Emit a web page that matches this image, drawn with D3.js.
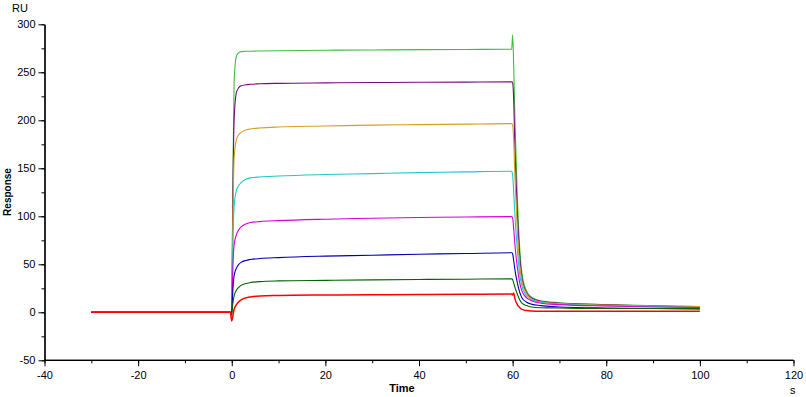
<!DOCTYPE html>
<html><head><meta charset="utf-8">
<script src="https://cdn.jsdelivr.net/npm/d3@7"></script>
<style>body{margin:0;background:#fff}svg{display:block}text{font-family:"Liberation Sans",Arial,sans-serif;fill:#000}</style>
</head><body><svg id="c" width="806" height="397"></svg>
<script>
const times = [-30,-0.3,0,0.2,0.5,1,1.5,2,3,4,6,10,20,30,40,50,59.8,60.0,60.2,60.5,61,61.5,62,63,64,66,70,80,90,100];
const seriesNames = ["s1","s2","s3","s4","s5","s6","s7","s8"];
const seriesColors = ["#3dbf3d","#7a0a7a","#d4a020","#20c8c8","#d800d8","#0000b4","#006400","#ff0000"];
const s1 = [0,0,0,120,240,267,270.5,271.5,272,272,272.2,272.5,273,273.3,273.6,273.8,274,289,262,200,120,68,40,22,16,12,10,8,7,6];
const s2 = [0,0,0,100,200,229,234,236,237,237.5,238,238.5,239,239.3,239.6,239.8,240,239,225,170,105,60,36,20,15,11.5,9.5,8,6.5,5.5];
const s3 = [0,0,0,80,160,180,185,187.5,190,191,192,193,194,195,195.5,196,196.5,195,182,140,86,50,32,19,14,11,9,7.5,6.5,6];
const s4 = [0,0,0,60,110,127,132,135,138.5,140,141,142,143.5,144.5,145.5,146.3,147,143,128,100,66,40,27,17,13,10.5,8.5,7,6,5];
const s5 = [0,0,0,40,70,81,86,89,92,93.5,94.5,95.5,97,98,98.8,99.3,99.7,98,89,70,47,31,22,15,12,9.5,8,6.5,5.5,5];
const s6 = [0,0,0,20,38,46,50,52,54,55,56,57,58.5,59.5,60.5,61.2,62,61,55,44,31,21,15,10.5,8.5,7,5.5,4.5,4,3.5];
const s7 = [0,0,-3,8,17,23,26,28,30,31,32,32.7,33.3,33.8,34.2,34.5,34.8,34,31,26,19,13,9.5,7,5.5,4.8,4.5,4,4,3.8];
const s8 = [0,0,-9,-5,3,8,11,13,15,16,17,17.5,18,18.3,18.6,18.8,19,18,20,14,8,5,3,1.8,1.3,1,1,1,1,1];
const seriesValues = [s1,s2,s3,s4,s5,s6,s7,s8];
const xTicks = [-40,-20,0,20,40,60,80,100,120];
const yTicks = [-50,0,50,100,150,200,250,300];

const svg = d3.select("#c");
const x = d3.scaleLinear().domain([-40,120]).range([44.5,793.5]);
const y = d3.scaleLinear().domain([-50,300]).range([360.3,24.3]);
const fmt = d => String(d);

const gx = svg.append("g").attr("transform","translate(0,360.3)");
gx.call(d3.axisBottom(x).tickValues(d3.range(-40,121,10)).tickSize(3).tickFormat(""));
const gx2 = svg.append("g").attr("transform","translate(0,360.3)");
gx2.call(d3.axisBottom(x).tickValues(xTicks).tickSize(6).tickPadding(5).tickFormat(fmt));
gx2.selectAll("text").attr("font-size",11).style("font-family","Liberation Sans, Arial, sans-serif");

const gy = svg.append("g").attr("transform","translate(44.5,0)");
gy.call(d3.axisLeft(y).tickValues(d3.range(-50,301,25)).tickSize(3).tickFormat("").tickSizeOuter(0));
const gy2 = svg.append("g").attr("transform","translate(44.5,0)");
gy2.call(d3.axisLeft(y).tickValues(yTicks).tickSize(6).tickPadding(3).tickSizeOuter(0).tickFormat(fmt));
gy2.selectAll("text").attr("font-size",11).style("font-family","Liberation Sans, Arial, sans-serif");
svg.selectAll(".domain").attr("stroke","#000").attr("stroke-width",1.2);
gx.select(".domain").attr("d",`M${x(-40)},0H${x(120)}`);
gx2.select(".domain").attr("d",`M${x(-40)},0H${x(120)}`);

const line = d3.line().x((d,i)=>x(times[i])).y(d=>y(d)).curve(d3.curveMonotoneX);
seriesValues.forEach((vals,k)=>{
  svg.append("path").datum(vals).attr("d",line).attr("fill","none")
    .attr("stroke",seriesColors[k]).attr("stroke-width",k===7?1.5:1.1);
});

svg.append("text").attr("x",12).attr("y",12).attr("font-size",11).text("RU");
svg.append("text").attr("x",790).attr("y",394).attr("font-size",11).text("s");
svg.append("text").attr("x",402).attr("y",392).attr("font-size",11).attr("font-weight","bold").attr("text-anchor","middle").text("Time");
svg.append("text").attr("transform","translate(11,192) rotate(-90)").attr("font-size",10).attr("font-weight","bold").attr("text-anchor","middle").text("Response");
</script></body></html>
